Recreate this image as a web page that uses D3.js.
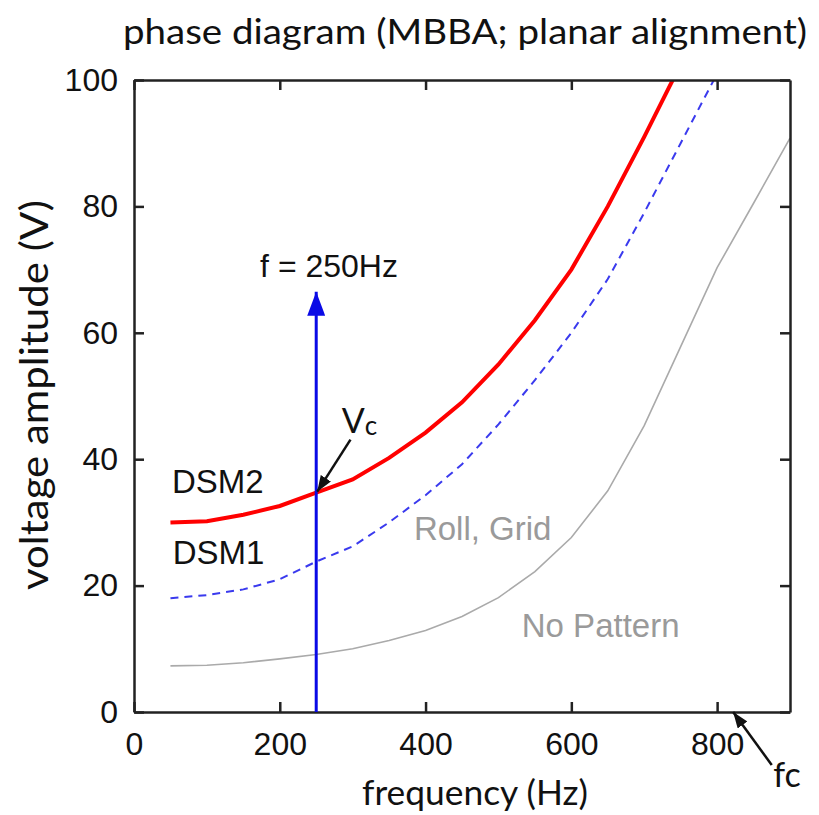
<!DOCTYPE html>
<html>
<head>
<meta charset="utf-8">
<script src="https://cdn.jsdelivr.net/npm/d3@7"></script>
<style>
  body { margin: 0; background: #fff; }
  .tick text { font-family: "Liberation Sans", Arial, sans-serif; }
</style>
</head>
<body>
<svg id="chart" width="819" height="815"></svg>
<script>
// frequency (Hz) values each curve was sampled at
const freqDSM2 = [50, 100, 150, 200, 250, 300, 350, 400, 450, 500, 550, 600, 650, 700, 750];
const voltDSM2 = [30, 30.2, 31.2, 32.6, 34.7, 36.8, 40.2, 44.2, 49, 55, 62, 70, 80, 91, 102.5];

const freqDSM1 = [50, 100, 150, 200, 250, 300, 350, 400, 450, 500, 550, 600, 650, 700, 750, 800];
const voltDSM1 = [18, 18.5, 19.4, 21, 23.8, 26.2, 30, 34.3, 39.2, 45.5, 52.5, 60, 68.5, 79, 90, 101];

const freqNoPat = [50, 100, 150, 200, 250, 300, 350, 400, 450, 500, 550, 600, 650, 700, 750, 800, 850, 900];
const voltNoPat = [7.3, 7.4, 7.8, 8.4, 9.1, 10, 11.3, 12.9, 15.1, 18.1, 22.2, 27.6, 35, 45.3, 57.8, 70.3, 80.5, 90.8];

const xTicks = [0, 200, 400, 600, 800];
const yTicks = [0, 20, 40, 60, 80, 100];

const probeFreq = 250;   // f = 250Hz arrow
const probeTop = 66.5;
const vcVolt = 34.7;     // where the arrow crosses DSM2
const fcFreq = 822;

let svg = d3.select("#chart");

let x = d3.scaleLinear().domain([0, 900]).range([134, 790]);
let y = d3.scaleLinear().domain([0, 100]).range([712, 80]);

svg.append("defs").append("clipPath")
  .attr("id", "plotArea")
  .append("rect")
  .attr("x", x(0)).attr("y", y(100))
  .attr("width", x(900) - x(0)).attr("height", y(0) - y(100));

// arrow heads
let defs = svg.select("defs");
defs.append("marker")
  .attr("id", "headBlue")
  .attr("markerUnits", "userSpaceOnUse")
  .attr("viewBox", "0 0 24 18")
  .attr("refX", 24).attr("refY", 9)
  .attr("markerWidth", 24).attr("markerHeight", 18)
  .attr("orient", "auto")
  .append("path").attr("d", "M0,0 L24,9 L0,18 Z").attr("fill", "#0a0ae6");

defs.append("marker")
  .attr("id", "headBlack")
  .attr("markerUnits", "userSpaceOnUse")
  .attr("viewBox", "0 0 16 12")
  .attr("refX", 16).attr("refY", 6)
  .attr("markerWidth", 16).attr("markerHeight", 12)
  .attr("orient", "auto")
  .append("path").attr("d", "M0,0 L16,6 L0,12 Z").attr("fill", "#111");

// curves
let lineGen = d3.line().x(d => x(d[0])).y(d => y(d[1]));
let curves = svg.append("g").attr("clip-path", "url(#plotArea)");

curves.append("path")
  .datum(d3.zip(freqNoPat, voltNoPat))
  .attr("d", lineGen)
  .attr("fill", "none")
  .attr("stroke", "#aaaaaa")
  .attr("stroke-width", 1.6);

curves.append("path")
  .datum(d3.zip(freqDSM1, voltDSM1))
  .attr("d", lineGen)
  .attr("fill", "none")
  .attr("stroke", "#3a3aee")
  .attr("stroke-width", 2)
  .attr("stroke-dasharray", "8,6");

curves.append("path")
  .datum(d3.zip(freqDSM2, voltDSM2))
  .attr("d", lineGen)
  .attr("fill", "none")
  .attr("stroke", "#ff0000")
  .attr("stroke-width", 4);

// axes, ticks pointing inward on all four sides
function styleAxis(g) {
  g.select(".domain").attr("stroke", "#222").attr("stroke-width", 2.5);
  g.selectAll(".tick line").attr("stroke", "#222").attr("stroke-width", 2.5);
  g.selectAll(".tick text").style("font-size", "32px").attr("fill", "#111");
}

svg.append("g")
  .attr("transform", `translate(0,${y(0)})`)
  .call(d3.axisBottom(x).tickValues(xTicks).tickSizeInner(-10).tickSizeOuter(0).tickPadding(20))
  .call(styleAxis);

svg.append("g")
  .attr("transform", `translate(0,${y(100)})`)
  .call(d3.axisTop(x).tickValues(xTicks).tickSizeInner(-10).tickSizeOuter(0).tickFormat(""))
  .call(styleAxis);

svg.append("g")
  .attr("transform", `translate(${x(0)},0)`)
  .call(d3.axisLeft(y).tickValues(yTicks).tickSizeInner(-10).tickSizeOuter(0).tickPadding(16))
  .call(styleAxis);

svg.append("g")
  .attr("transform", `translate(${x(900)},0)`)
  .call(d3.axisRight(y).tickValues(yTicks).tickSizeInner(-10).tickSizeOuter(0).tickFormat(""))
  .call(styleAxis);

// f = 250Hz probe arrow
svg.append("line")
  .attr("x1", x(probeFreq)).attr("y1", y(0))
  .attr("x2", x(probeFreq)).attr("y2", y(probeTop))
  .attr("stroke", "#0a0ae6")
  .attr("stroke-width", 3)
  .attr("marker-end", "url(#headBlue)");

// Vc arrow
svg.append("line")
  .attr("x1", x(297)).attr("y1", y(43.1))
  .attr("x2", x(probeFreq) + 1).attr("y2", y(vcVolt) - 1)
  .attr("stroke", "#111")
  .attr("stroke-width", 2.5)
  .attr("marker-end", "url(#headBlack)");

// fc arrow
svg.append("line")
  .attr("x1", x(875)).attr("y1", y(-8.4))
  .attr("x2", x(fcFreq)).attr("y2", y(0))
  .attr("stroke", "#111")
  .attr("stroke-width", 2.5)
  .attr("marker-end", "url(#headBlack)");

// region labels
const helv = "'Liberation Sans', Arial, sans-serif";
const gill = "Lato, 'Open Sans', sans-serif";

function label(txt, f, v, color, font, size) {
  return svg.append("text")
    .attr("x", x(f)).attr("y", y(v))
    .attr("fill", color)
    .style("font-family", font)
    .style("font-size", size + "px")
    .text(txt);
}

label("DSM2", 52, 34.65, "#111", helv, 33);
label("DSM1", 53, 23.4, "#111", helv, 33);
label("Roll, Grid", 384, 27.2, "#9a9a9a", helv, 33);
label("No Pattern", 532, 11.9, "#9a9a9a", helv, 33);
label("f = 250Hz", 173, 68.8, "#111", helv, 32);

let vc = label("V", 285, 44.1, "#111", gill, 34);
vc.append("tspan").attr("dy", 2).style("font-size", "26px").text("c");

label("fc", 877, -11.9, "#111", gill, 34);

// titles
svg.append("text")
  .attr("x", 465).attr("y", 44)
  .attr("text-anchor", "middle")
  .style("font-family", gill)
  .style("font-size", "35px")
  .attr("textLength", 684)
  .attr("lengthAdjust", "spacingAndGlyphs")
  .attr("fill", "#111")
  .text("phase diagram (MBBA; planar alignment)");

svg.append("text")
  .attr("x", 475).attr("y", 805)
  .attr("text-anchor", "middle")
  .style("font-family", gill)
  .style("font-size", "34px")
  .attr("textLength", 226)
  .attr("lengthAdjust", "spacingAndGlyphs")
  .attr("fill", "#111")
  .text("frequency (Hz)");

svg.append("text")
  .attr("transform", "translate(48,395) rotate(-90)")
  .attr("text-anchor", "middle")
  .style("font-family", gill)
  .style("font-size", "38px")
  .attr("textLength", 390)
  .attr("lengthAdjust", "spacingAndGlyphs")
  .attr("fill", "#111")
  .text("voltage amplitude (V)");
</script>
</body>
</html>
